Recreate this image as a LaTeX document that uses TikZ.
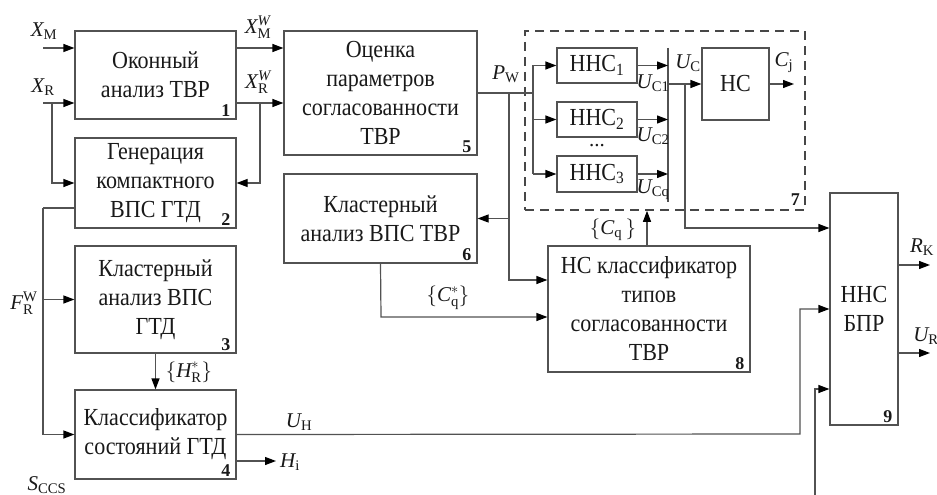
\documentclass[tikz,border=0pt]{standalone}
\usepackage{amsmath}
\usepackage{fontspec}
\setmainfont{Liberation Serif}
\newfontfamily\tnr{Liberation Serif}
\newfontfamily\tnrc[FakeStretch=0.9]{Liberation Serif}
\usetikzlibrary{arrows.meta,calc}
\newcommand\vi[1]{\text{\tnr\itshape #1}}
\newcommand\vr[1]{\text{\tnr #1}}
\tikzset{
  ln/.style={draw=black!68, line width=1.2pt},
  arr/.style={ln, -{Triangle[length=11pt,width=8pt,fill=black,color=black]}},
  blk/.style={draw=black!68, line width=1.2pt, rectangle, align=center, inner sep=0pt,
    text=black!90, font=\tnrc\fontsize{24.5}{29}\selectfont},
  num/.style={font=\tnr\bfseries\fontsize{18}{18}\selectfont, text=black!90, inner sep=0pt, anchor=south east},
  lab/.style={font=\tnr\fontsize{21}{24}\selectfont, text=black!90, inner sep=0pt},
  grp/.style={draw=black!72, line width=1.6pt, dash pattern=on 9pt off 6pt, rectangle, inner sep=0pt}
}
\begin{document}
\begin{tikzpicture}[x=1pt,y=-1pt]
\useasboundingbox (0,0) rectangle (937,495);
% group 7
\node[grp, minimum width=280pt, minimum height=179pt] (g7) at (665,120.5) {};
\node[num] at (800,206) {7};
% blocks
\node[blk, minimum width=161pt, minimum height=88pt] (b1) at (155.5,75) {Оконный\\анализ ТВР};
\node[blk, minimum width=161pt, minimum height=90pt] (b2) at (155.5,183) {Генерация\\компактного\\ВПС ГТД};
\node[blk, minimum width=161pt, minimum height=107pt] (b3) at (155.5,299.5) {Кластерный\\анализ ВПС\\ГТД};
\node[blk, minimum width=161pt, minimum height=89pt] (b4) at (155.5,434.5) {Классификатор\\состояний ГТД};
\node[blk, minimum width=193pt, minimum height=124pt] (b5) at (380.5,93) {Оценка\\параметров\\согласованности\\ТВР};
\node[blk, minimum width=193pt, minimum height=89pt] (b6) at (380.5,218.5) {Кластерный\\анализ ВПС ТВР};
\node[blk, minimum width=80pt, minimum height=35pt] (h1) at (597,65.5) {ННС\textsubscript{1}};
\node[blk, minimum width=80pt, minimum height=35pt] (h2) at (597,119.5) {ННС\textsubscript{2}};
\node[blk, minimum width=80pt, minimum height=36pt] (h3) at (597,174) {ННС\textsubscript{3}};
\node[lab] (dots) at (597,146) {...};
\node[blk, minimum width=67pt, minimum height=72pt] (hc) at (735.5,84) {НС};
\node[blk, minimum width=202pt, minimum height=126pt] (b8) at (649,309) {НС классификатор\\типов\\согласованности\\ТВР};
\node[blk, minimum width=68pt, minimum height=232pt] (b9) at (864,309) {ННС\\БПР};
% numbers
\node[num] at ($(b1.south east)+(-6,-3)$) {1};
\node[num] at ($(b2.south east)+(-6,-3)$) {2};
\node[num] at ($(b3.south east)+(-6,-3)$) {3};
\node[num] at ($(b4.south east)+(-6,-3)$) {4};
\node[num] at ($(b5.south east)+(-6,-3)$) {5};
\node[num] at ($(b6.south east)+(-6,-3)$) {6};
\node[num] at ($(b8.south east)+(-6,-3)$) {8};
\node[num] at ($(b9.south east)+(-6,-3)$) {9};
% inputs to 1
\coordinate (xm) at (43,48);
\coordinate (xr) at (43,103);
\coordinate (xrb) at (52,103);
\draw[arr] (xm) -- (xm -| b1.west);
\draw[arr] (xr) -- (xr -| b1.west);
\draw[arr] (xrb) |- (b2.west);
\node[lab] (lxm) at (44,31) {$\vi{X}_{\vr{M}}$};
\node[lab] (lxr) at (43,87) {$\vi{X}_{\vr{R}}$};
% 1 -> 5
\draw[arr] (b1.east |- xm) -- (b5.west |- xm);
\draw[arr] (b1.east |- xr) -- (b5.west |- xr);
\coordinate (xrw) at (260,103);
\draw[arr] (xrw) |- (b2.east);
\node[lab] (lxmw) at (258,27) {$\vi{X}^{\vi{W}}_{\vr{M}}$};
\node[lab] (lxrw) at (258,82) {$\vi{X}^{\vi{W}}_{\vr{R}}$};
% 2 -> 3,4
\coordinate (f1) at (43,208);
\draw[ln] (b2.west |- f1) -- (f1);
\draw[arr] (f1) |- (b4.west);
\draw[arr] (f1 |- b3.west) -- (b3.west);
\node[lab] (lf) at (24,303) {$\vi{F}^{\vr{W}}_{\vr{R}}$};
\draw[arr] (b3.south) -- (b4.north);
\node[lab] (lh) at (189,372) {$\{\vi{H}^{*}_{\vr{R}}\}$};
% 4 outputs
\coordinate (uh) at (800,434);
\draw[arr] (b4.east) -- (uh) |- (b9.west);
\node[lab] (luh) at (299,422) {$\vi{U}_{\vr{H}}$};
\coordinate (hi) at (276,461);
\draw[arr] (b4.east |- hi) -- (hi);
\node[lab, anchor=west] (lhi) at (280,462) {$\vi{H}_{\vr{i}}$};
\node[lab] (ls) at (47,485) {$\vi{S}_{\vr{CCS}}$};
% bottom input to 9
\coordinate (s9) at (815,495);
\coordinate (s9b) at (815,389);
\draw[arr] (s9) -- (s9b) -- (s9b -| b9.west);
% P_W
\coordinate (pw) at (533,93);
\coordinate (pv) at (509,93);
\draw[ln] (b5.east) -- (pw);
\draw[ln] (pw |- h1.west) -- (pw |- h3.west);
\draw[arr] (pw |- h1.west) -- (h1.west);
\draw[arr] (pw |- h2.west) -- (h2.west);
\draw[arr] (pw |- h3.west) -- (h3.west);
\node[lab] (lpw) at (506,74) {$\vi{P}_{\vr{W}}$};
\coordinate (p8) at (509,280);
\draw[arr] (pv) -- (p8) -- (p8 -| b8.west);
\draw[arr] (pv |- b6.east) -- (b6.east);
% 6 -> 8
\coordinate (c6) at (381,317);
\draw[arr] (b6.south) -- (c6) -- (c6 -| b8.west);
\node[lab] (lc6) at (448,298) {$\{\vi{C}^{*}_{\vr{q}}\}$};
% HHC outputs
\coordinate (uc) at (668,84);
\draw[ln] (668,48) -- (668,202);
\draw[arr] (h1.east) -- (h1.east -| uc);
\draw[arr] (h2.east) -- (h2.east -| uc);
\draw[arr] (h3.east) -- (h3.east -| uc);
\node[lab] (lu1) at (653,83) {$\vi{U}_{\vr{C1}}$};
\node[lab] (lu2) at (653,136) {$\vi{U}_{\vr{C2}}$};
\node[lab] (lu3) at (653,190) {$\vi{U}_{\vr{Cq}}$};
\draw[arr] (uc) -- (hc.west);
\node[lab] (luc) at (688,63) {$\vi{U}_{\vr{C}}$};
\coordinate (ub) at (685,84);
\coordinate (ub2) at (685,228);
\draw[arr] (ub) -- (ub2) -- (ub2 -| b9.west);
\coordinate (cj) at (794,84);
\draw[arr] (hc.east) -- (cj);
\node[lab] (lcj) at (784,63) {$\vi{C}_{\vr{j}}$};
% 8 -> 7
\coordinate (cq) at (647,246);
\draw[arr] (cq) -- (cq |- g7.south);
\node[lab] (lcq) at (613,230) {$\{\vi{C}_{\vr{q}}\,\}$};
% 9 outputs
\coordinate (rk) at (930,265);
\coordinate (ur) at (930,353);
\draw[arr] (b9.east |- rk) -- (rk);
\draw[arr] (b9.east |- ur) -- (ur);
\node[lab] (lrk) at (922,247) {$\vi{R}_{\vr{K}}$};
\node[lab] (lur) at (926,336) {$\vi{U}_{\vr{R}}$};
\end{tikzpicture}
\end{document}
